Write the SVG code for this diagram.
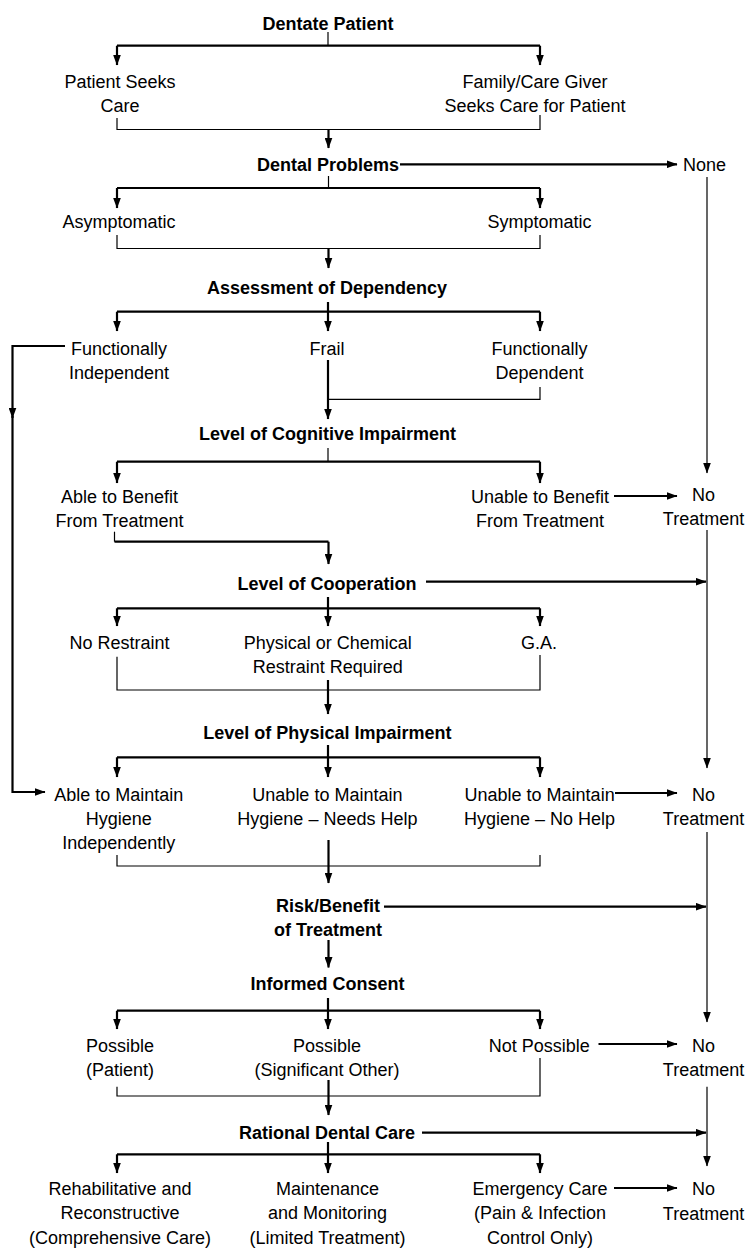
<svg xmlns="http://www.w3.org/2000/svg" width="746" height="1248" viewBox="0 0 746 1248">
<defs>
<style>
text{font-family:"Liberation Sans",Arial,sans-serif;font-size:18px;fill:#000;text-anchor:middle}
.b{font-weight:bold}
.k{fill:none;stroke:#000;stroke-width:2.2}
.t{fill:none;stroke:#000;stroke-width:1.2}
.a{marker-end:url(#ah)}
</style>
<marker id="ah" markerUnits="userSpaceOnUse" markerWidth="11" markerHeight="8" refX="10.5" refY="4" orient="auto" viewBox="0 0 11 8">
<path d="M0,0 L11,4 L0,8 z" fill="#000"/>
</marker>
</defs>
<rect width="746" height="1248" fill="#fff"/>
<g id="connectors">
<path class="t" d="M328,32 V45.7"/>
<path class="k" d="M117,45.7 H540"/>
<path class="k a" d="M117,45.7 V65"/>
<path class="k a" d="M540,45.7 V65"/>
<path class="t" d="M117,118 V129.5 H540 V115"/>
<path class="k a" d="M328.5,129.5 V148"/>
<path class="k a" d="M400,164.3 H677"/>
<path class="t" d="M328.5,176 V188"/>
<path class="k" d="M117,188 H540"/>
<path class="k a" d="M117,188 V208"/>
<path class="k a" d="M540,188 V208"/>
<path class="t a" d="M707,177 V473"/>
<path class="t" d="M117,235 V248.5 H540 V235"/>
<path class="k a" d="M328.5,248.5 V268"/>
<path class="k a" d="M328,302 V331"/>
<path class="k" d="M117,311.7 H540"/>
<path class="k a" d="M117,311.7 V331"/>
<path class="k a" d="M540,311.7 V331"/>
<path class="k a" d="M65,346 H12.5 V418"/>
<path class="k a" d="M12.5,416 V792 H45"/>
<path class="k a" d="M328,360 V419"/>
<path class="t" d="M540,387 V399.3 H328"/>
<path class="t" d="M328,448 V461.7"/>
<path class="k" d="M117,461.7 H540"/>
<path class="k a" d="M117,461.7 V483"/>
<path class="k a" d="M540,461.7 V483"/>
<path class="k a" d="M614,496 H677"/>
<path class="t" d="M114.5,531.7 V541.7"/>
<path class="k" d="M114.5,541.7 H328.5"/>
<path class="k a" d="M328.5,541.7 V564"/>
<path class="t a" d="M707,530 V768"/>
<path class="k a" d="M426,581.7 H706"/>
<path class="k a" d="M328,597 V626"/>
<path class="k" d="M117,608.3 H540"/>
<path class="k a" d="M117,608.3 V626"/>
<path class="k a" d="M540,608.3 V626"/>
<path class="t" d="M117,656.7 V690 H540 V655"/>
<path class="k a" d="M328,680 V714"/>
<path class="k a" d="M328,745 V777"/>
<path class="k" d="M117,757.3 H540"/>
<path class="k a" d="M117,757.3 V777"/>
<path class="k a" d="M540,757.3 V777"/>
<path class="k a" d="M615,793 H677"/>
<path class="t a" d="M707,832 V1022"/>
<path class="t" d="M117,855 V866 H540 V855"/>
<path class="k a" d="M328.5,840 V883"/>
<path class="k a" d="M384,906.7 H706"/>
<path class="k a" d="M328.5,940 V967.5"/>
<path class="k a" d="M328,998 V1029"/>
<path class="k" d="M117,1010.7 H540"/>
<path class="k a" d="M117,1010.7 V1029"/>
<path class="k a" d="M540,1010.7 V1029"/>
<path class="k a" d="M598.5,1044 H677"/>
<path class="t" d="M117,1086.7 V1096 H540 V1058"/>
<path class="k a" d="M328.5,1080 V1115"/>
<path class="t a" d="M707,1086.7 V1166"/>
<path class="k a" d="M422,1132.7 H706"/>
<path class="k a" d="M328,1142 V1173"/>
<path class="k" d="M117,1154.3 H540"/>
<path class="k a" d="M117,1154.3 V1173"/>
<path class="k a" d="M540,1154.3 V1173"/>
<path class="k a" d="M614,1188 H677"/>
</g>
<g id="n-dentate"><text class="b" x="328" y="29.5">Dentate Patient</text></g>
<g id="n-patient-seeks"><text x="120" y="87.5">Patient Seeks</text><text x="120" y="111.5">Care</text></g>
<g id="n-family-seeks"><text x="535" y="87.5">Family/Care Giver</text><text x="535" y="111.5">Seeks Care for Patient</text></g>
<g id="n-dental-problems"><text class="b" x="328" y="170.5">Dental Problems</text></g>
<g id="n-none"><text x="704.5" y="170.5">None</text></g>
<g id="n-asymptomatic"><text x="119" y="228">Asymptomatic</text></g>
<g id="n-symptomatic"><text x="539.5" y="228">Symptomatic</text></g>
<g id="n-assessment"><text class="b" x="327" y="294">Assessment of Dependency</text></g>
<g id="n-func-indep"><text x="119" y="355">Functionally</text><text x="119" y="379">Independent</text></g>
<g id="n-frail"><text x="327" y="355">Frail</text></g>
<g id="n-func-dep"><text x="539.5" y="355">Functionally</text><text x="539.5" y="379">Dependent</text></g>
<g id="n-cognitive"><text class="b" x="327.5" y="440">Level of Cognitive Impairment</text></g>
<g id="n-able-benefit"><text x="119.5" y="503">Able to Benefit</text><text x="119.5" y="527">From Treatment</text></g>
<g id="n-unable-benefit"><text x="540" y="503">Unable to Benefit</text><text x="540" y="527">From Treatment</text></g>
<g id="n-no-treat-1"><text x="703.5" y="501">No</text><text x="703.5" y="525">Treatment</text></g>
<g id="n-cooperation"><text class="b" x="327" y="590">Level of Cooperation</text></g>
<g id="n-no-restraint"><text x="119.6" y="648.5">No Restraint</text></g>
<g id="n-restraint"><text x="327.8" y="648.5">Physical or Chemical</text><text x="327.8" y="673">Restraint Required</text></g>
<g id="n-ga"><text x="539" y="648.5">G.A.</text></g>
<g id="n-physical"><text class="b" x="327.4" y="738.5">Level of Physical Impairment</text></g>
<g id="n-able-hygiene"><text x="118.7" y="800.5">Able to Maintain</text><text x="118.7" y="824.5">Hygiene</text><text x="118.7" y="848.5">Independently</text></g>
<g id="n-needs-help"><text x="327.4" y="800.5">Unable to Maintain</text><text x="327.4" y="824.5">Hygiene – Needs Help</text></g>
<g id="n-no-help"><text x="539.6" y="800.5">Unable to Maintain</text><text x="539.6" y="824.5">Hygiene – No Help</text></g>
<g id="n-no-treat-2"><text x="703.5" y="800.5">No</text><text x="703.5" y="825">Treatment</text></g>
<g id="n-risk"><text class="b" x="328" y="911.5">Risk/Benefit</text><text class="b" x="328" y="936">of Treatment</text></g>
<g id="n-consent"><text class="b" x="327.4" y="989.5">Informed Consent</text></g>
<g id="n-possible-patient"><text x="120" y="1051.5">Possible</text><text x="120" y="1075.5">(Patient)</text></g>
<g id="n-possible-other"><text x="327" y="1051.5">Possible</text><text x="327" y="1075.5">(Significant Other)</text></g>
<g id="n-not-possible"><text x="539.3" y="1051.5">Not Possible</text></g>
<g id="n-no-treat-3"><text x="703.5" y="1051.5">No</text><text x="703.5" y="1076">Treatment</text></g>
<g id="n-rational"><text class="b" x="327" y="1139">Rational Dental Care</text></g>
<g id="n-rehab"><text x="120" y="1195">Rehabilitative and</text><text x="120" y="1219.3">Reconstructive</text><text x="120" y="1243.5">(Comprehensive Care)</text></g>
<g id="n-maintenance"><text x="327.6" y="1195">Maintenance</text><text x="327.6" y="1219.3">and Monitoring</text><text x="327.6" y="1243.5">(Limited Treatment)</text></g>
<g id="n-emergency"><text x="540" y="1195">Emergency Care</text><text x="540" y="1219.3">(Pain &amp; Infection</text><text x="540" y="1243.5">Control Only)</text></g>
<g id="n-no-treat-4"><text x="703.5" y="1195">No</text><text x="703.5" y="1219.5">Treatment</text></g>
</svg>
